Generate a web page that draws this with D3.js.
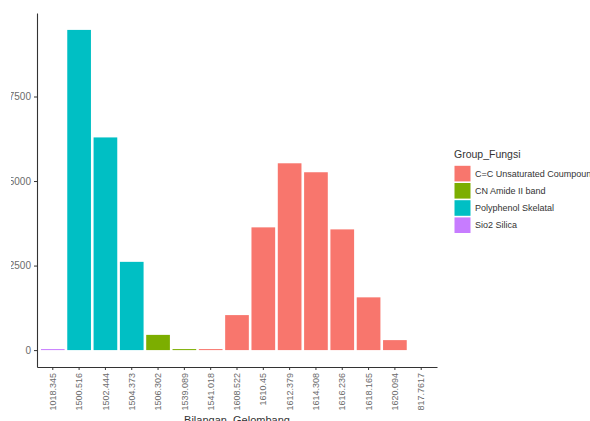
<!DOCTYPE html>
<html lang="en">
<head>
    <meta charset="UTF-8">
    <title>Bilangan Gelombang</title>
    <script src="https://d3js.org/d3.v7.min.js"></script>
    <style>
        body {
            margin: 0;
            background-color: #fff;
            font-family: Arial, "Liberation Sans", sans-serif;
        }
        .tick-label {
            fill: #6b6b6b;
        }
    </style>
</head>
<body>
    <div id="chart"></div>
    <script>
        // wavenumber categories, in the order they appear on the x axis
        const wavenumbers = ["1018.345", "1500.516", "1502.444", "1504.373", "1506.302", "1539.089",
            "1541.018", "1608.522", "1610.45", "1612.379", "1614.308", "1616.236", "1618.165",
            "1620.094", "817.7617"];
        const groupOf = ["Sio2 Silica", "Polyphenol Skelatal", "Polyphenol Skelatal", "Polyphenol Skelatal",
            "CN Amide II band", "CN Amide II band", "C=C Unsaturated Coumpound", "C=C Unsaturated Coumpound",
            "C=C Unsaturated Coumpound", "C=C Unsaturated Coumpound", "C=C Unsaturated Coumpound",
            "C=C Unsaturated Coumpound", "C=C Unsaturated Coumpound", "C=C Unsaturated Coumpound",
            "Sio2 Silica"];
        const values = [30, 9470, 6290, 2610, 450, 30, 30, 1035, 3630, 5525, 5260, 3570, 1560, 295, 0];
        const groupNames = ["C=C Unsaturated Coumpound", "CN Amide II band", "Polyphenol Skelatal", "Sio2 Silica"];
        const groupColors = ["#F8766D", "#7CAE00", "#00BFC4", "#C77CFF"];
        const yTicks = [0, 2500, 5000, 7500];

        const width = 590, height = 421;
        const plotLeft = 37, plotRight = 437, plotTop = 13, plotBottom = 367;

        const svg = d3.select('#chart').append('svg')
            .attr('width', width)
            .attr('height', height);

        const x = d3.scaleBand()
            .domain(wavenumbers)
            .range([plotLeft, plotRight])
            .paddingInner(0.1)
            .paddingOuter(0.15);

        const y = d3.scaleLinear()
            .domain([-500, 9970])
            .range([plotBottom, plotTop]);

        const color = d3.scaleOrdinal().domain(groupNames).range(groupColors);

        const bars = wavenumbers.map((w, i) => ({ w: w, v: values[i], g: groupOf[i] }));

        svg.append('g')
            .selectAll('rect')
            .data(bars)
            .join('rect')
            .attr('x', d => x(d.w))
            .attr('width', x.bandwidth())
            .attr('y', d => y(d.v))
            .attr('height', d => y(0) - y(d.v))
            .attr('fill', d => color(d.g));

        // y axis (labels clipped on the left like the cropped original)
        svg.append('clipPath').attr('id', 'yclip')
            .append('rect').attr('x', -26).attr('y', 0).attr('width', 40).attr('height', height);

        const yAxis = svg.append('g')
            .attr('transform', `translate(${plotLeft},0)`)
            .attr('clip-path', 'url(#yclip)')
            .call(d3.axisLeft(y).tickValues(yTicks).tickFormat(d3.format('d'))
                .tickSize(3).tickPadding(3).tickSizeOuter(0));
        yAxis.select('.domain').attr('stroke', '#333').attr('stroke-width', 1.1);
        yAxis.selectAll('.tick line').attr('stroke', '#333');
        yAxis.selectAll('.tick text')
            .attr('class', 'tick-label')
            .style('font-size', '10px')
            .style('font-family', 'Arial, "Liberation Sans", sans-serif');

        // x axis
        const xAxis = svg.append('g')
            .attr('transform', `translate(0,${plotBottom})`)
            .call(d3.axisBottom(x).tickSize(3).tickSizeOuter(0));
        xAxis.select('.domain').attr('stroke', '#333').attr('stroke-width', 1.1);
        xAxis.selectAll('.tick line').attr('stroke', '#333');
        xAxis.selectAll('.tick text')
            .attr('class', 'tick-label')
            .style('font-size', '9px')
            .style('font-family', 'Arial, "Liberation Sans", sans-serif')
            .attr('text-anchor', 'end')
            .attr('transform', 'rotate(-90)')
            .attr('x', -6)
            .attr('y', 0)
            .attr('dy', '0.35em');

        svg.append('text')
            .attr('x', (plotLeft + plotRight) / 2)
            .attr('y', 424)
            .attr('text-anchor', 'middle')
            .style('font-size', '11px')
            .style('fill', '#333')
            .text('Bilangan_Gelombang');

        // legend
        const legend = svg.append('g').attr('transform', 'translate(454,158)');
        legend.append('text')
            .attr('x', 0)
            .attr('y', 0)
            .style('font-size', '10.5px')
            .style('fill', '#333')
            .text('Group_Fungsi');

        const keySize = 17.2;
        const item = legend.selectAll('.legend-item')
            .data(groupNames)
            .join('g')
            .attr('class', 'legend-item')
            .attr('transform', (d, i) => `translate(0,${7 + i * keySize})`);
        item.append('rect')
            .attr('x', 0.5)
            .attr('y', 0.8)
            .attr('width', 16)
            .attr('height', 15.6)
            .attr('fill', d => color(d));
        item.append('text')
            .attr('x', 21)
            .attr('y', keySize / 2)
            .attr('dy', '0.35em')
            .style('font-size', '9px')
            .style('fill', '#333')
            .text(d => d);
    </script>
</body>
</html>
